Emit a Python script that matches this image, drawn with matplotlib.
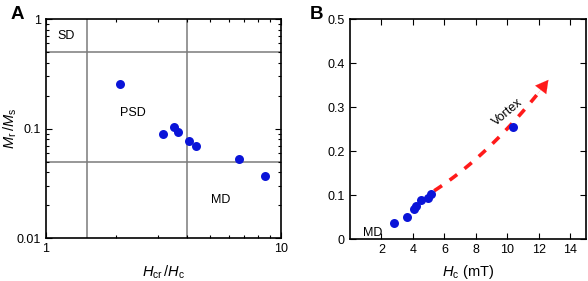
import numpy as np
import matplotlib.pyplot as plt
from matplotlib.ticker import LogLocator, NullFormatter

plt.rcParams['font.family'] = ['Liberation Sans', 'DejaVu Sans']
plt.rcParams['mathtext.fontset'] = 'custom'
plt.rcParams['mathtext.it'] = 'Liberation Sans:italic'
plt.rcParams['mathtext.rm'] = 'Liberation Sans'

# panel A: Day plot
hcr_hc = [2.08, 3.16, 3.52, 3.64, 4.08, 4.35, 6.61, 8.58]
mr_ms = [0.254, 0.0887, 0.103, 0.0937, 0.0766, 0.0694, 0.0525, 0.0367]
sd_psd_md_x = [1.5, 4.0]
sd_psd_md_y = [0.5, 0.05]

# panel B: Mr/Ms vs Hc
hc = [2.79, 3.63, 4.10, 4.18, 4.52, 4.99, 5.16, 10.35]
mr_ms_b = [0.0356, 0.0508, 0.0674, 0.0758, 0.0879, 0.0924, 0.1015, 0.2538]
# trend arrow guide points
trend_x = [5.35, 8.0, 10.35, 12.6]
trend_y = [0.109, 0.185, 0.262, 0.362]

blue = '#0a14d8'
red = '#ff1a1a'
fs = 9

fig = plt.figure(figsize=(5.88, 2.81), dpi=100)
axA = fig.add_axes([0.0777, 0.152, 0.400, 0.780])
axB = fig.add_axes([0.595, 0.149, 0.402, 0.783])

# ---- A ----
axA.set_xscale('log')
axA.set_yscale('log')
axA.set_xlim(1, 10)
axA.set_ylim(0.01, 1)
for xv in sd_psd_md_x:
    axA.axvline(xv, color='#7a7a7a', lw=1.1, zorder=1)
for yv in sd_psd_md_y:
    axA.axhline(yv, color='#7a7a7a', lw=1.1, zorder=1)
axA.scatter(hcr_hc, mr_ms, s=42, color=blue, zorder=3, linewidths=0)
axA.set_xticks([1, 10])
axA.set_xticklabels(['1', '10'])
axA.set_yticks([0.01, 0.1, 1])
axA.set_yticklabels(['0.01', '0.1', '1'])
axA.xaxis.set_minor_locator(LogLocator(base=10, subs=np.arange(2, 10)))
axA.yaxis.set_minor_locator(LogLocator(base=10, subs=np.arange(2, 10)))
axA.xaxis.set_minor_formatter(NullFormatter())
axA.yaxis.set_minor_formatter(NullFormatter())
axA.text(1.22, 0.70, 'SD', fontsize=fs, ha='center', va='center')
axA.text(2.34, 0.140, 'PSD', fontsize=fs, ha='center', va='center')
axA.text(5.56, 0.0225, 'MD', fontsize=fs, ha='center', va='center')
axA.set_xlabel('$H_{\\mathrm{cr}}\\,/H_{\\mathrm{c}}$', fontsize=10.5, labelpad=6)
axA.set_ylabel('$M_{\\mathrm{r}}\\,/M_{\\mathrm{s}}$', fontsize=10.5)
axA.yaxis.set_label_coords(-0.115, 0.5)

# ---- B ----
axB.set_xlim(0, 15)
axB.set_ylim(0, 0.5)
coef = np.polyfit(trend_x, trend_y, 2)
xs = np.linspace(trend_x[0], trend_x[-1] - 0.6, 100)
axB.plot(xs, np.polyval(coef, xs), color=red, lw=2.6,
         linestyle=(0, (2.6, 2.6)), dash_capstyle='butt', zorder=2)
axB.annotate('', xy=(trend_x[-1], trend_y[-1]),
             xytext=(trend_x[-1] - 0.7, np.polyval(coef, trend_x[-1] - 0.7)),
             arrowprops=dict(arrowstyle='-|>,head_length=0.9,head_width=0.5',
                             color=red, lw=0.1, shrinkA=0, shrinkB=0),
             zorder=2)
axB.scatter(hc, mr_ms_b, s=42, color=blue, zorder=3, linewidths=0)
axB.set_xticks(np.arange(2, 15, 2))
axB.set_yticks(np.arange(0, 0.51, 0.1))
axB.set_yticklabels(['0', '0.1', '0.2', '0.3', '0.4', '0.5'])
axB.text(9.99, 0.289, 'Vortex', fontsize=fs, ha='center', va='center', rotation=40)
axB.text(1.44, 0.015, 'MD', fontsize=fs, ha='center', va='center')
axB.set_xlabel('$H_{\\mathrm{c}}$ (mT)', fontsize=10.5, labelpad=5)

for ax in (axA, axB):
    ax.tick_params(which='both', direction='in', top=True, right=True,
                   labelsize=fs, width=0.8)
    ax.tick_params(which='major', length=4)
    ax.tick_params(which='minor', length=2.5)
    for sp in ax.spines.values():
        sp.set_linewidth(1.2)

fig.text(0.029, 0.948, 'A', fontsize=13.5, fontweight='bold', va='center', ha='center')
fig.text(0.539, 0.948, 'B', fontsize=13.5, fontweight='bold', va='center', ha='center')

fig.savefig('out.png', dpi=100)
